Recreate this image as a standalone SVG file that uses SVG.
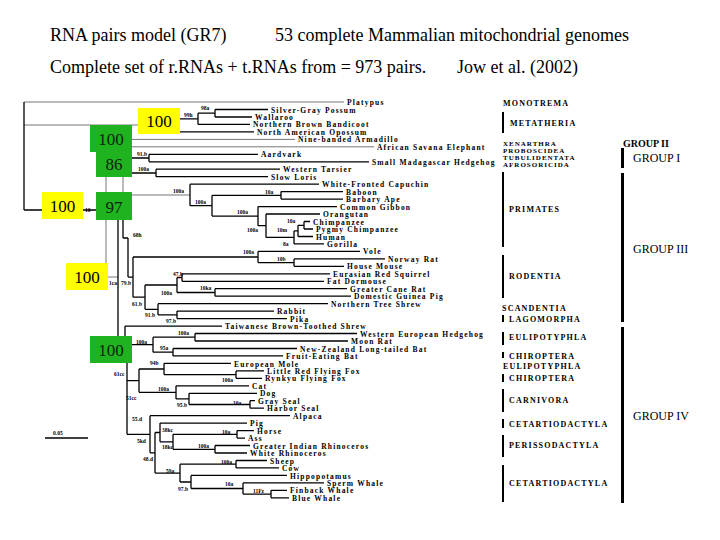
<svg xmlns="http://www.w3.org/2000/svg" width="720" height="540" viewBox="0 0 720 540">
<style>
.ttl{font-family:"Liberation Serif",serif;font-size:18px;fill:#000}
.lf{font-family:"Liberation Serif",serif;font-weight:bold;font-size:7.5px;letter-spacing:1.2px;fill:#000}
.bl{font-family:"Liberation Serif",serif;font-weight:bold;font-size:5.5px;fill:#000}
.od{font-family:"Liberation Serif",serif;font-weight:bold;font-size:8px;letter-spacing:1.2px;fill:#000}
.os{font-family:"Liberation Serif",serif;font-weight:bold;font-size:7px;letter-spacing:1px;fill:#000}
.gp{font-family:"Liberation Serif",serif;font-size:12px;fill:#000}
.gp2{font-family:"Liberation Serif",serif;font-weight:bold;font-size:10px;fill:#000}
.bx{font-family:"Liberation Serif",serif;font-size:17px;text-anchor:middle}
.ln{stroke:#000;stroke-width:1.3;fill:none}
.lg{stroke:#777;stroke-width:1;fill:none}
.yb{fill:#ffff00}
.gb{fill:#1fb41f}
.bar{fill:#000}
</style>
<rect width="720" height="540" fill="#fff"/>
<g id="titles">
<text class="ttl" x="50" y="41">RNA pairs model (GR7)</text>
<text class="ttl" x="275" y="41">53 complete Mammalian mitochondrial genomes</text>
<text class="ttl" x="50" y="73">Complete set of r.RNAs + t.RNAs from = 973 pairs.</text>
<text class="ttl" x="457" y="73">Jow et al. (2002)</text>
</g>
<g id="connectors">
<path class="lg" d="M24,102H344M132,139.4H295M132,146.8H374M106,177V192M123,177V192M106,220V263M108,277H118M132,195H190M24,125H138"/>
<path class="ln" d="M24,102V210M24,210H96
M180,118.8H198M198,113.2V124.4M198,113.2H215M215,109.5V117M215,109.5H268M215,117H252M198,124.4H250M180,131.9H254
M132,158H149M149,154.3V161.8M149,154.3H258M149,161.8H369
M132,173H156M156,169.2V176.7M156,169.2H280M156,176.7H268
M190,184.2V205.7M190,184.2H319M190,205.7H212M212,195.4V216.1M212,195.4H281M281,191.6V199.1M281,191.6H343M281,199.1H343M212,216.1H258M258,206.6V225.7M258,206.6H337M258,225.7H266M266,214V237.4M266,214H320M266,237.4H294M294,230.9V243.9M294,243.9H324M294,230.9H298M298,225.3V236.5M298,236.5H313M298,225.3H304M304,221.5V229M304,221.5H310M304,229H313
M118,220V336M123,220V238M123,238H128M128,238V277.1M128,277.1H133M133,257V297.2M133,257H258M258,251.4V262.6M258,251.4H360M258,262.6H294M294,258.9V266.3M294,258.9H385M294,266.3H344
M133,297.2H145M145,285V309.3M145,285H177M177,277.5V292.5M177,277.5H182M182,273.8V281.3M182,273.8H330M182,281.3H324M177,292.5H215M215,288.7V296.2M215,288.7H347M215,296.2H351
M145,309.3H158M158,303.7V314.9M158,303.7H328M158,314.9H177M177,311.1V318.6M177,311.1H274M177,318.6H287
M125,326.1V336M125,326.1H222
M132,344.7H153M153,337.2V352.2M153,337.2H195M195,333.5V341M195,333.5H357M195,341H348M153,352.2H173M173,348.5V355.9M173,348.5H297M173,355.9H283
M127,363V434.3M127,380.6H139M139,369V392.3M139,369H164M164,363.4V374.6M164,363.4H231M164,374.6H236M236,370.9V378.3M236,370.9H264M236,378.3H262
M139,392.3H176M176,385.8V398.9M176,385.8H249M176,398.9H189M189,393.3V404.5M189,393.3H257M189,404.5H250M250,400.7V408.2M250,400.7H255M250,408.2H264
M127,434.3H150M150,415.7V452.8M150,415.7H290M150,452.8H155M155,432.5V473.1M155,432.5H160M160,423.1V441.8M160,423.1H247M160,441.8H173M173,434.3V449.3M173,434.3H237M237,430.6V438.1M237,430.6H254M237,438.1H245M173,449.3H215M215,445.5V453M215,445.5H250M215,453H247
M155,473.1H180M180,464.2V482M180,464.2H236M236,460.5V467.9M236,460.5H267M236,467.9H279M180,482H191M191,475.4V488.5M191,475.4H287M191,488.5H243M243,482.9V494.1M243,482.9H324M243,494.1H271M271,490.3V497.8M271,490.3H287M271,497.8H289
M45,438H88"/>
</g>
<g id="boxes">
<g id="n-meta"><rect class="yb" x="138" y="108" width="42" height="26"/><text class="bx" x="159" y="127" fill="#000">100</text></g>
<g id="n-theria"><rect class="yb" x="42" y="192" width="41" height="27"/><text class="bx" x="62.5" y="211.5" fill="#000">100</text></g>
<g id="n-glires"><rect class="yb" x="66" y="263" width="42" height="27"/><text class="bx" x="87" y="282.5" fill="#000">100</text></g>
<g id="n-group12"><rect class="gb" x="90" y="125" width="42" height="27"/><rect class="gb" x="96" y="150" width="36" height="27"/><text class="bx" x="111" y="144.5" fill="#102010">100</text><text class="bx" x="114" y="169.5" fill="#102010">86</text></g>
<g id="n-euth"><rect class="gb" x="96" y="192" width="36" height="28"/><text class="bx" x="114" y="212.5" fill="#102010">97</text></g>
<g id="n-laur"><rect class="gb" x="90" y="336" width="42" height="27"/><text class="bx" x="111" y="355.5" fill="#102010">100</text></g>
</g>
<g id="branch-labels">
<text class="bl" x="85" y="212">10</text>
<text class="bl" x="109" y="285">1ca</text>
<text class="bl" x="184" y="117">99h</text>
<text class="bl" x="201" y="110">98a</text>
<text class="bl" x="137" y="156">91.b</text>
<text class="bl" x="138" y="171">100a</text>
<text class="bl" x="173" y="193">100a</text>
<text class="bl" x="195" y="204">100a</text>
<text class="bl" x="265" y="194">10a</text>
<text class="bl" x="237" y="214">100a</text>
<text class="bl" x="247" y="232">100a</text>
<text class="bl" x="287" y="223">10a</text>
<text class="bl" x="277" y="232">10m</text>
<text class="bl" x="283" y="246">8a</text>
<text class="bl" x="133" y="237">68h</text>
<text class="bl" x="243" y="254">100a</text>
<text class="bl" x="277" y="261">10b</text>
<text class="bl" x="121" y="285">79.b</text>
<text class="bl" x="173" y="276">47.b</text>
<text class="bl" x="200" y="290">10ka</text>
<text class="bl" x="161" y="295">100a</text>
<text class="bl" x="132" y="306">61.b</text>
<text class="bl" x="145" y="317">91.b</text>
<text class="bl" x="166" y="323">97.b</text>
<text class="bl" x="178" y="335">100a</text>
<text class="bl" x="136" y="344">100a</text>
<text class="bl" x="160" y="350">95a</text>
<text class="bl" x="150" y="365">94b</text>
<text class="bl" x="114" y="376">61cc</text>
<text class="bl" x="222" y="382">100a</text>
<text class="bl" x="158" y="391">100a</text>
<text class="bl" x="126" y="400">51cc</text>
<text class="bl" x="233" y="405">10a</text>
<text class="bl" x="177" y="407">95.b</text>
<text class="bl" x="132" y="421">55.d</text>
<text class="bl" x="162" y="432">38kc</text>
<text class="bl" x="222" y="434">10a</text>
<text class="bl" x="137" y="443">5kd</text>
<text class="bl" x="162" y="449">18kc</text>
<text class="bl" x="198" y="448">100a</text>
<text class="bl" x="143" y="461">48.d</text>
<text class="bl" x="221" y="464">100a</text>
<text class="bl" x="166" y="473">59a</text>
<text class="bl" x="225" y="486">10a</text>
<text class="bl" x="178" y="491">97.b</text>
<text class="bl" x="253" y="493">11Fz</text>
<text class="bl" x="53" y="435">0.05</text>
</g>
<g id="leaves">
<text class="lf" x="347" y="105">Platypus</text>
<text class="lf" x="271" y="112.5">Silver-Gray Possum</text>
<text class="lf" x="255" y="119.9">Wallaroo</text>
<text class="lf" x="253" y="127.4">Northern Brown Bandicoot</text>
<text class="lf" x="257" y="134.9">North American Opossum</text>
<text class="lf" x="298" y="142.4">Nine-banded Armadillo</text>
<text class="lf" x="377" y="149.8">African Savana Elephant</text>
<text class="lf" x="261" y="157.3">Aardvark</text>
<text class="lf" x="372" y="164.8">Small Madagascar Hedgehog</text>
<text class="lf" x="283" y="172.2">Western Tarsier</text>
<text class="lf" x="271" y="179.7">Slow Loris</text>
<text class="lf" x="322" y="187.2">White-Fronted Capuchin</text>
<text class="lf" x="346" y="194.7">Baboon</text>
<text class="lf" x="346" y="202.1">Barbary Ape</text>
<text class="lf" x="340" y="209.6">Common Gibbon</text>
<text class="lf" x="323" y="217.1">Orangutan</text>
<text class="lf" x="313" y="224.5">Chimpanzee</text>
<text class="lf" x="316" y="232">Pygmy Chimpanzee</text>
<text class="lf" x="316" y="239.5">Human</text>
<text class="lf" x="327" y="246.9">Gorilla</text>
<text class="lf" x="363" y="254.4">Vole</text>
<text class="lf" x="388" y="261.9">Norway Rat</text>
<text class="lf" x="347" y="269.3">House Mouse</text>
<text class="lf" x="333" y="276.8">Eurasian Red Squirrel</text>
<text class="lf" x="327" y="284.3">Fat Dormouse</text>
<text class="lf" x="350" y="291.8">Greater Cane Rat</text>
<text class="lf" x="354" y="299.2">Domestic Guinea Pig</text>
<text class="lf" x="331" y="306.7">Northern Tree Shrew</text>
<text class="lf" x="277" y="314.2">Rabbit</text>
<text class="lf" x="290" y="321.6">Pika</text>
<text class="lf" x="225" y="329.1">Taiwanese Brown-Toothed Shrew</text>
<text class="lf" x="360" y="336.6">Western European Hedgehog</text>
<text class="lf" x="351" y="344">Moon Rat</text>
<text class="lf" x="300" y="351.5">New-Zealand Long-tailed Bat</text>
<text class="lf" x="286" y="359">Fruit-Eating Bat</text>
<text class="lf" x="234" y="366.5">European Mole</text>
<text class="lf" x="267" y="373.9">Little Red Flying Fox</text>
<text class="lf" x="265" y="381.4">Rynkyu Flying Fox</text>
<text class="lf" x="252" y="388.9">Cat</text>
<text class="lf" x="260" y="396.3">Dog</text>
<text class="lf" x="258" y="403.8">Gray Seal</text>
<text class="lf" x="267" y="411.3">Harbor Seal</text>
<text class="lf" x="293" y="418.7">Alpaca</text>
<text class="lf" x="250" y="426.2">Pig</text>
<text class="lf" x="257" y="433.7">Horse</text>
<text class="lf" x="248" y="441.2">Ass</text>
<text class="lf" x="253" y="448.6">Greater Indian Rhinoceros</text>
<text class="lf" x="250" y="456.1">White Rhinoceros</text>
<text class="lf" x="270" y="463.6">Sheep</text>
<text class="lf" x="282" y="471">Cow</text>
<text class="lf" x="290" y="478.5">Hippopotamus</text>
<text class="lf" x="327" y="486">Sperm Whale</text>
<text class="lf" x="290" y="493.4">Finback Whale</text>
<text class="lf" x="292" y="500.9">Blue Whale</text>
</g>
<g id="orders">
<rect class="bar" x="502" y="112" width="2" height="21"/>
<rect class="bar" x="502" y="172" width="2" height="75"/>
<rect class="bar" x="502" y="255" width="2" height="43"/>
<rect class="bar" x="502" y="315" width="2" height="7"/>
<rect class="bar" x="502" y="332" width="2" height="13"/>
<rect class="bar" x="502" y="352" width="2" height="6"/>
<rect class="bar" x="502" y="374" width="2" height="8"/>
<rect class="bar" x="502" y="389" width="2" height="23"/>
<rect class="bar" x="502" y="419" width="2" height="9"/>
<rect class="bar" x="502" y="435" width="2" height="22"/>
<rect class="bar" x="502" y="465" width="2" height="37"/>
<text class="od" x="503" y="106">MONOTREMA</text>
<text class="od" x="510" y="126">METATHERIA</text>
<text class="os" x="503" y="146">XENARTHRA</text>
<text class="os" x="503" y="153">PROBOSCIDEA</text>
<text class="os" x="503" y="160">TUBULIDENTATA</text>
<text class="os" x="503" y="167">AFROSORICIDA</text>
<text class="od" x="509" y="212">PRIMATES</text>
<text class="od" x="509" y="279">RODENTIA</text>
<text class="od" x="502" y="311">SCANDENTIA</text>
<text class="od" x="509" y="322">LAGOMORPHA</text>
<text class="od" x="509" y="340">EULIPOTYPHLA</text>
<text class="od" x="509" y="359">CHIROPTERA</text>
<text class="od" x="503" y="369">EULIPOTYPHLA</text>
<text class="od" x="509" y="381">CHIROPTERA</text>
<text class="od" x="509" y="403">CARNIVORA</text>
<text class="od" x="509" y="427">CETARTIODACTYLA</text>
<text class="od" x="509" y="448">PERISSODACTYLA</text>
<text class="od" x="509" y="486">CETARTIODACTYLA</text>
</g>
<g id="groups">
<rect class="bar" x="621" y="148" width="3" height="20"/>
<rect class="bar" x="621" y="173" width="3" height="149"/>
<rect class="bar" x="621" y="327" width="3" height="176"/>
<text class="gp2" x="623" y="147">GROUP II</text>
<text class="gp" x="633" y="162">GROUP I</text>
<text class="gp" x="633" y="253">GROUP III</text>
<text class="gp" x="633" y="420">GROUP IV</text>
</g>
</svg>
